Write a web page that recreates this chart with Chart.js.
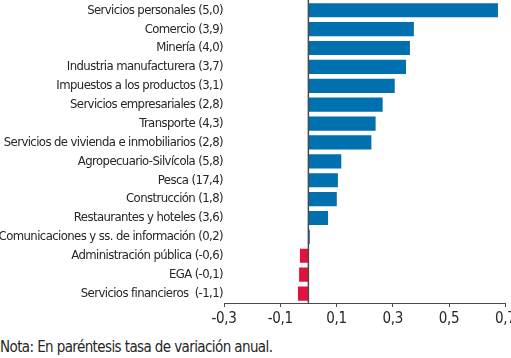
<!DOCTYPE html>
<html>
<head>
<meta charset="utf-8">
<script src="https://cdn.jsdelivr.net/npm/chart.js@4/dist/chart.umd.min.js"></script>
<style>
  html, body { margin: 0; padding: 0; background: #fff; overflow: hidden; }
  #wrap { position: relative; width: 511px; height: 358px; overflow: hidden; }
  #box { position: absolute; left: 0; top: -8px; width: 519px; height: 342px; }
  #note { position: absolute; left: 0; top: 339px; font-family: 'Liberation Sans Narrow', 'DejaVu Sans Condensed', sans-serif; font-size: 15px; letter-spacing: -0.6px; line-height: 17px; color: #262626; white-space: nowrap; }
</style>
</head>
<body>
<div id="wrap">
  <div id="box"><canvas id="c"></canvas></div>
  <div id="note">Nota: En paréntesis tasa de variación anual.</div>
</div>
<script>
const categories = [
  "Servicios personales (5,0)",
  "Comercio (3,9)",
  "Minería (4,0)",
  "Industria manufacturera (3,7)",
  "Impuestos a los productos (3,1)",
  "Servicios empresariales (2,8)",
  "Transporte (4,3)",
  "Servicios de vivienda e inmobiliarios (2,8)",
  "Agropecuario-Silvícola (5,8)",
  "Pesca (17,4)",
  "Construcción (1,8)",
  "Restaurantes y hoteles (3,6)",
  "Comunicaciones y ss. de información (0,2)",
  "Administración pública (-0,6)",
  "EGA (-0,1)",
  "Servicios financieros  (-1,1)"
];
const contributions = [0.674, 0.375, 0.361, 0.347, 0.307, 0.264, 0.239, 0.224, 0.117, 0.105, 0.101, 0.070, 0.005, -0.030, -0.033, -0.037];
const xTicks = [-0.3, -0.1, 0.1, 0.3, 0.5, 0.7];

const FONT = "'Liberation Sans Narrow', 'DejaVu Sans Condensed', sans-serif";
const BLUE = '#0070ae', RED = '#e3123b';

function spacedLabels(scale, spacing) {
  if (scale._spacedWrapped) return;
  const orig = scale.drawLabels;
  scale.drawLabels = function (ca) {
    this.ctx.save();
    this.ctx.letterSpacing = spacing;
    orig.call(this, ca);
    this.ctx.restore();
  };
  scale._spacedWrapped = true;
}

const zeroLine = {
  id: 'zeroLine',
  afterDatasetsDraw(chart) {
    const x = chart.scales.x.getPixelForValue(0);
    const ctx = chart.ctx;
    ctx.save();
    ctx.strokeStyle = '#4a4a4a';
    ctx.lineWidth = 1.5;
    ctx.beginPath();
    ctx.moveTo(x, 0);
    ctx.lineTo(x, chart.chartArea.bottom);
    ctx.stroke();
    ctx.restore();
  }
};

new Chart(document.getElementById('c'), {
  type: 'bar',
  data: {
    labels: categories,
    datasets: [{
      data: contributions,
      backgroundColor: contributions.map(v => v < 0 ? RED : BLUE),
      borderWidth: 0,
      barPercentage: 0.75,
      categoryPercentage: 1.0
    }]
  },
  options: {
    indexAxis: 'y',
    responsive: true,
    maintainAspectRatio: false,
    animation: false,
    layout: { padding: { top: 1, left: 0, right: 0, bottom: 0 } },
    plugins: { legend: { display: false }, tooltip: { enabled: false } },
    scales: {
      x: {
        min: -0.3, max: 0.7,
        afterBuildTicks: s => { s.ticks = xTicks.map(v => ({ value: v })); },
        afterFit: s => { s.height = 31; spacedLabels(s, '-0.3px'); },
        border: { display: true, color: '#4a4a4a', width: 1 },
        grid: { display: true, drawOnChartArea: false, drawTicks: true, tickLength: 4, tickColor: '#4a4a4a' },
        ticks: {
          autoSkip: false, maxRotation: 0, padding: 3,
          color: '#262626',
          font: { family: FONT, size: 15 },
          callback: v => v.toFixed(1).replace('.', ',')
        }
      },
      y: {
        afterFit: s => { s.width = 224; spacedLabels(s, '-0.6px'); },
        border: { display: false },
        grid: { display: false, drawTicks: false },
        ticks: {
          autoSkip: false, padding: 1,
          color: '#262626',
          font: { family: FONT, size: 13 }
        }
      }
    }
  },
  plugins: [zeroLine]
});
</script>
</body>
</html>
